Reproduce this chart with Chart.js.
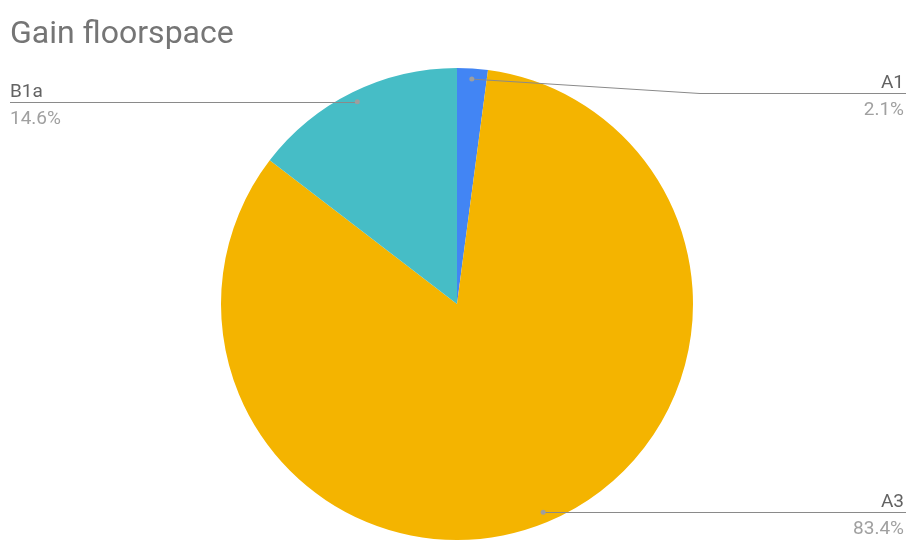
<!DOCTYPE html>
<html>
<head>
<meta charset="utf-8">
<script src="https://cdn.jsdelivr.net/npm/chart.js@4/dist/chart.umd.min.js"></script>
<style>
  html, body { margin: 0; padding: 0; background: #fff; overflow: hidden; }
  #wrap { width: 906px; height: 540px; position: relative; }
</style>
</head>
<body>
<div id="wrap"><canvas id="pie"></canvas></div>
<script>
const chartTitle = 'Gain floorspace';
const categories = ['A1', 'A3', 'B1a'];
const shares = [2.1, 83.4, 14.6];
const sliceColors = ['#4285F4', '#F4B400', '#46BDC6'];

// where each callout sits: side of the chart, vertical shift of its rule, and bend point
const callouts = [
  { side: 'right', shiftY: 14, bendX: 700 },
  { side: 'right', shiftY: 0, bendX: null },
  { side: 'left', shiftY: 0, bendX: null }
];

const calloutPlugin = {
  id: 'callouts',
  afterDraw(chart) {
    const ctx = chart.ctx;
    const W = chart.width;
    ctx.save();

    // title
    ctx.font = '32px Roboto';
    ctx.fillStyle = '#757575';
    ctx.textAlign = 'left';
    ctx.textBaseline = 'alphabetic';
    ctx.fillText(chartTitle, 10, 43);

    const arcs = chart.getDatasetMeta(0).data;
    arcs.forEach((arc, i) => {
      const mid = (arc.startAngle + arc.endAngle) / 2;
      const r = arc.outerRadius * 0.955;
      const dx = arc.x + Math.cos(mid) * r;
      const dy = arc.y + Math.sin(mid) * r;
      const c = callouts[i];
      const lineY = Math.round(dy + c.shiftY) + 0.5;
      const right = c.side === 'right';
      const endX = right ? W : 10;

      ctx.strokeStyle = '#8a8a8a';
      ctx.lineWidth = 1;
      ctx.beginPath();
      ctx.moveTo(dx, dy);
      if (c.bendX !== null) ctx.lineTo(c.bendX, lineY);
      else ctx.lineTo(dx, lineY);
      ctx.lineTo(endX, lineY);
      ctx.stroke();

      ctx.fillStyle = '#9e9e9e';
      ctx.beginPath();
      ctx.arc(dx, dy, 2.5, 0, Math.PI * 2);
      ctx.fill();

      const tx = right ? W - 2 : 10;
      ctx.textAlign = right ? 'right' : 'left';
      ctx.font = '19px Roboto';
      ctx.fillStyle = '#636363';
      ctx.fillText(categories[i], tx, lineY - 6);
      ctx.fillStyle = '#a0a0a0';
      ctx.fillText(shares[i].toFixed(1) + '%', tx, lineY + 21);
    });
    ctx.restore();
  }
};

new Chart(document.getElementById('pie'), {
  type: 'pie',
  data: {
    labels: categories,
    datasets: [{
      data: shares,
      backgroundColor: sliceColors,
      borderWidth: 0
    }]
  },
  options: {
    responsive: true,
    maintainAspectRatio: false,
    animation: false,
    layout: { padding: { top: 68, bottom: 0, left: 221, right: 213 } },
    plugins: {
      legend: { display: false },
      title: { display: false },
      tooltip: { enabled: false }
    }
  },
  plugins: [calloutPlugin]
});
</script>
</body>
</html>
